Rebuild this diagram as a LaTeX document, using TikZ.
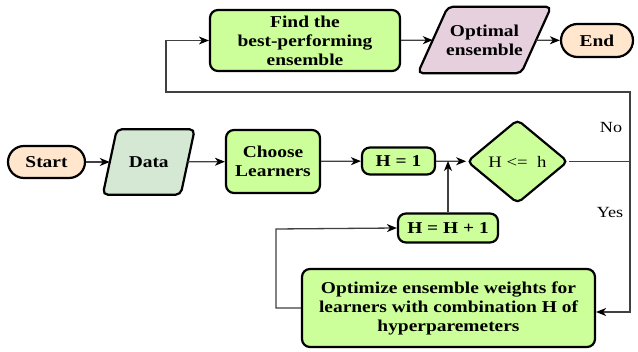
\documentclass[tikz,border=0pt]{standalone}
\usepackage{fontspec}
\setmainfont{Liberation Serif}[FakeStretch=1.17]
\usetikzlibrary{shapes.geometric,arrows.meta,calc,backgrounds}
\definecolor{peach}{HTML}{FFE6CC}
\definecolor{datafill}{HTML}{D5E8D4}
\definecolor{optfill}{HTML}{E6D0DE}
\definecolor{lgreen}{HTML}{CCFF99}
\definecolor{lingray}{HTML}{404040}
\tikzset{
  boldtext/.style={font=\fontsize{16.6}{19}\selectfont\bfseries, align=center},
  box/.style={boldtext, draw=black, line width=2.2pt, rounded corners=8pt, fill=lgreen, inner sep=0pt},
  term/.style={boldtext, draw=black, line width=2.2pt, fill=peach, inner sep=0pt},
  para/.style={boldtext, inner sep=0pt},
  parashape/.style={draw=black, line width=2.2pt, rounded corners=5pt},
  decision/.style={diamond, draw=black, line width=2.2pt, rounded corners=5pt, fill=lgreen, inner sep=0pt, aspect=1.2, font=\fontsize{16}{19}\selectfont},
  lbl/.style={font=\fontsize{15.5}{18}\selectfont, inner sep=0pt},
  line/.style={draw=lingray, line width=1.3pt},
  conn/.style={line, -{Stealth[length=10pt,width=8pt,inset=3pt,black]}}
}
\begin{document}
\begin{tikzpicture}[x=1pt,y=-1pt]
\useasboundingbox (0,0) rectangle (638,352);
% nodes
\node[term, rounded corners=16pt, minimum width=77pt, minimum height=32pt] (start) at (46.5,162) {Start};
\node[para, minimum width=77.5pt, minimum height=65pt] (data) at (148.75,162) {Data};
\node[box, minimum width=94pt, minimum height=63pt] (choose) at (273,161.5) {Choose\\Learners};
\node[box, minimum width=73pt, minimum height=27pt] (h1) at (398.5,161) {H = 1};
\node[decision, minimum width=101pt, minimum height=84pt] (dia) at (517.5,161.5) {H <= \ h};
\node[box, minimum width=190pt, minimum height=61pt] (find) at (305,40.5) {Find the\\best-performing\\ensemble};
\node[para, minimum width=103pt, minimum height=66pt] (opt) at (484.5,40) {Optimal\\ensemble};
\node[term, rounded corners=16.5pt, minimum width=72pt, minimum height=33pt] (end) at (597,40.5) {End};
\node[box, minimum width=100pt, minimum height=29pt] (hp1) at (448,228) {H = H + 1};
\node[box, minimum width=293pt, minimum height=78pt] (optw) at (448.5,308) {Optimize ensemble weights for\\learners with combination H of\\hyperparemeters};
\node[lbl] (no) at (611,128) {No};
\node[lbl] (yes) at (610,213) {Yes};
% parallelogram outlines
\begin{scope}[on background layer]
\fill[white] (0,0) rectangle (638,352);
\draw[parashape, fill=datafill]
  ($(data.north west)+(7,0)$) -- ($(data.north east)+(7,0)$) --
  ($(data.south east)+(-7,0)$) -- ($(data.south west)+(-7,0)$) -- cycle;
\draw[parashape, fill=optfill]
  ($(opt.north west)+(15,0)$) -- ($(opt.north east)+(15,0)$) --
  ($(opt.south east)+(-15,0)$) -- ($(opt.south west)+(-15,0)$) -- cycle;
\end{scope}
% coordinates
\coordinate (rtop) at (630,92);
\coordinate (ltop) at (166,92);
\coordinate (rmid) at (dia.east -| rtop);
\coordinate (j) at (hp1.north |- h1.east);
\coordinate (lb) at (276,229);
% connectors
\draw[conn] (start) -- (data);
\draw[conn] (data) -- (choose);
\draw[conn] (choose) -- (h1);
\draw[conn] (h1) -- (dia);
\draw[conn] (hp1.north) -- (j);
\draw[conn] (dia.east) -- (rmid) -- (rtop) -- (ltop) |- (find.west);
\draw[conn] (rmid) |- ($(optw.east)+(0,4)$);
\draw[conn] (optw.west) -| (lb) -- (hp1.west);
\draw[conn] (find) -- (opt);
\draw[conn] (opt) -- (end);
\end{tikzpicture}
\end{document}
